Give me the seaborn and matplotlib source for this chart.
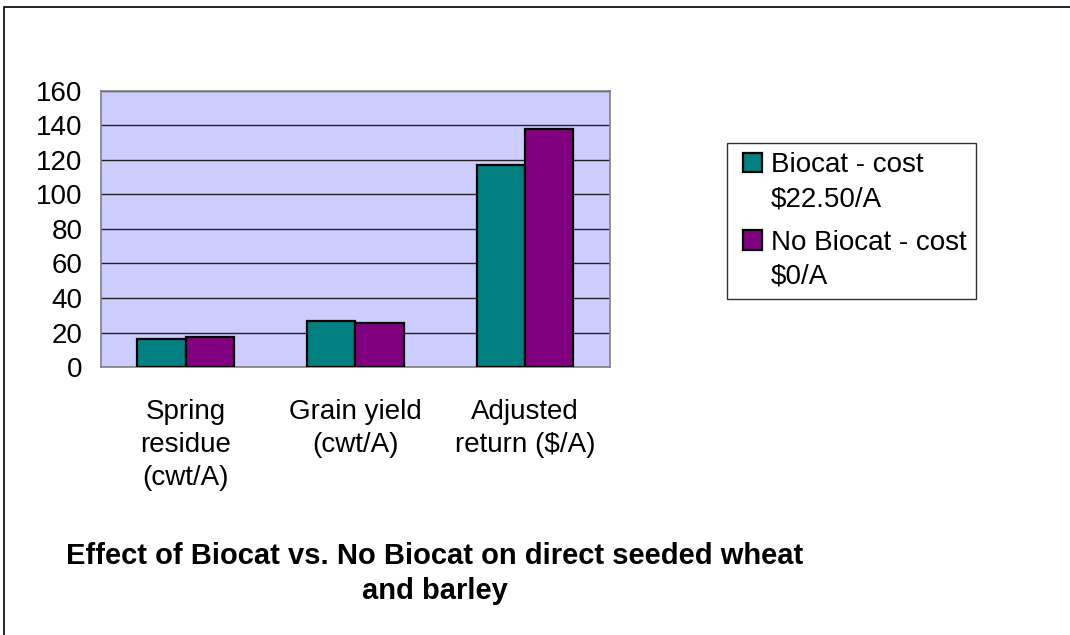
import pandas as pd
import matplotlib
matplotlib.use('Agg')
import matplotlib.pyplot as plt
import seaborn as sns
from matplotlib.patches import Rectangle
from matplotlib.legend_handler import HandlerPatch

# ── Data ───────────────────────────────────────────────────────────────────────
categories = ['Spring\nresidue\n(cwt/A)', 'Grain yield\n(cwt/A)', 'Adjusted\nreturn ($/A)']
series = ['Biocat - cost\n$22.50/A', 'No Biocat - cost\n$0/A']
biocat = [16.2, 26.7, 117]
no_biocat = [17.4, 25.5, 138]
yticks = [0, 20, 40, 60, 80, 100, 120, 140, 160]
colors = ['#008080', '#800080']

df = pd.DataFrame({
    'category': categories * 2,
    'series': [series[0]] * 3 + [series[1]] * 3,
    'value': biocat + no_biocat,
})

# ── Plot ───────────────────────────────────────────────────────────────────────
sns.set_style('white')
plt.rcParams['font.family'] = ['Liberation Sans', 'DejaVu Sans']
plt.rcParams['text.color'] = 'black'
plt.rcParams['xtick.labelcolor'] = 'black'
plt.rcParams['ytick.labelcolor'] = 'black'

FS = 20

fig = plt.figure(figsize=(10.7, 6.35), dpi=100)
ax = fig.add_axes([0.0944, 0.422, 0.4756, 0.435])
ax.set_facecolor('#CCCCFF')

sns.barplot(data=df, x='category', y='value', hue='series', palette=colors,
            saturation=1, width=0.57, edgecolor='black', linewidth=1.6, ax=ax, zorder=3)

ax.set_ylim(0, 160)
ax.set_yticks(yticks)
ax.set_xlim(-0.5, 2.5)
ax.yaxis.grid(True, color='#222222', linewidth=1, zorder=0)
ax.set_axisbelow(True)
for s in ax.spines.values():
    s.set_color('#808080')
    s.set_linewidth(1.2)

ax.set_xticks([-0.5, 0.5, 1.5, 2.5])
ax.set_xticklabels([])
ax.set_xticks(range(3), minor=True)
ax.set_xticklabels(categories, minor=True, fontsize=FS, linespacing=1.34)
ax.tick_params(axis='x', which='major', direction='out', length=6, color='#808080', width=1.2)
ax.tick_params(axis='x', which='minor', length=0, pad=23)
ax.tick_params(axis='y', direction='out', length=6.5, color='#808080', width=1.2,
               labelsize=FS, pad=7)
ax.set_xlabel('')
ax.set_ylabel('')


def top_patch(legend, orig_handle, xdescent, ydescent, width, height, fontsize):
    # square swatch at the right of the handle box, next to the first label line
    return Rectangle((-xdescent + width - height, -ydescent + 0.72 * fontsize), height, height)


handles, labels = ax.get_legend_handles_labels()
leg = ax.legend(handles, labels, loc='upper left',
                bbox_to_anchor=(727 / 1070, 1 - 143 / 635),
                bbox_transform=fig.transFigure, frameon=True, fancybox=False,
                edgecolor='black', fontsize=FS, handlelength=0.93, handleheight=0.68,
                handletextpad=0.3, labelspacing=0.6, borderpad=0.34, borderaxespad=0,
                handler_map={h: HandlerPatch(patch_func=top_patch) for h in handles})
leg.get_frame().set_linewidth(1)
for t in leg.get_texts():
    t.set_linespacing(1.42)

fig.text(0.4065, 0.097, 'Effect of Biocat vs. No Biocat on direct seeded wheat\nand barley',
         ha='center', va='center', fontsize=21, fontweight='bold', linespacing=1.32)

# outer chart border
fig.patches.append(Rectangle((4 / 1070, -0.1), 1.2, 1 - 7 / 635 + 0.1,
                             transform=fig.transFigure, fill=False,
                             edgecolor='black', linewidth=1.2))

fig.savefig('out.png', dpi=100)
